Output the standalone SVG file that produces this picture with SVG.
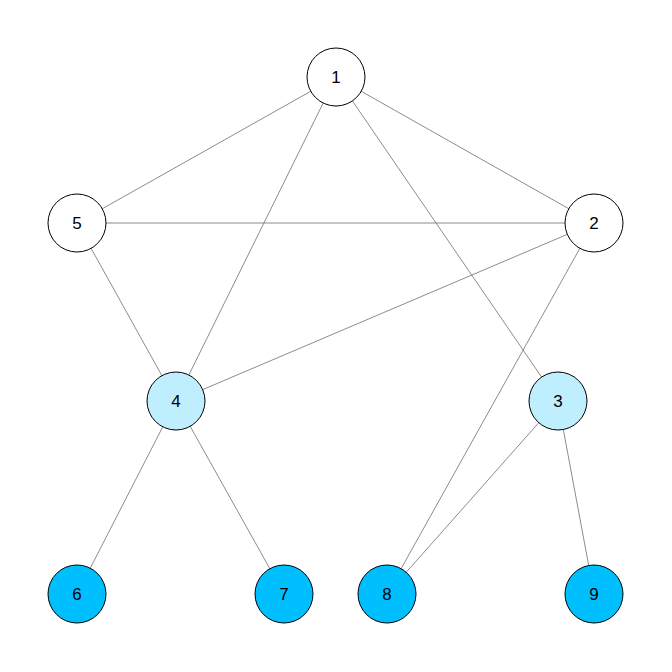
<svg xmlns="http://www.w3.org/2000/svg" width="672" height="672" viewBox="0 0 672 672">
  <style>
    .edge { stroke: #6e6e6e; stroke-width: 0.8; fill: none; }
    .node circle { stroke: #000000; stroke-width: 1; }
    .node text { font-family: "Liberation Sans", Arial, sans-serif; font-size: 17px; fill: #000000; text-anchor: middle; dominant-baseline: central; }
    .white { fill: #ffffff; }
    .light { fill: #bfefff; }
    .deep { fill: #00bfff; }
  </style>
  <rect width="672" height="672" fill="#ffffff"/>
  <g id="edges">
    <line class="edge" x1="336" y1="77" x2="77" y2="223"/>
    <line class="edge" x1="336" y1="77" x2="176" y2="401"/>
    <line class="edge" x1="336" y1="77" x2="558" y2="401"/>
    <line class="edge" x1="336" y1="77" x2="594" y2="223"/>
    <line class="edge" x1="77" y1="223" x2="594" y2="223"/>
    <line class="edge" x1="77" y1="223" x2="176" y2="401"/>
    <line class="edge" x1="594" y1="223" x2="176" y2="401"/>
    <line class="edge" x1="594" y1="223" x2="387" y2="594"/>
    <line class="edge" x1="558" y1="401" x2="387" y2="594"/>
    <line class="edge" x1="558" y1="401" x2="594" y2="594"/>
    <line class="edge" x1="176" y1="401" x2="77" y2="594"/>
    <line class="edge" x1="176" y1="401" x2="284" y2="594"/>
  </g>
  <g id="node1" class="node"><circle class="white" cx="336" cy="77" r="29"/><text x="336" y="77">1</text></g>
  <g id="node2" class="node"><circle class="white" cx="594" cy="223" r="29"/><text x="594" y="223">2</text></g>
  <g id="node3" class="node"><circle class="light" cx="558" cy="401" r="29"/><text x="558" y="401">3</text></g>
  <g id="node4" class="node"><circle class="light" cx="176" cy="401" r="29"/><text x="176" y="401">4</text></g>
  <g id="node5" class="node"><circle class="white" cx="77" cy="223" r="29"/><text x="77" y="223">5</text></g>
  <g id="node6" class="node"><circle class="deep" cx="77" cy="594" r="29"/><text x="77" y="594">6</text></g>
  <g id="node7" class="node"><circle class="deep" cx="284" cy="594" r="29"/><text x="284" y="594">7</text></g>
  <g id="node8" class="node"><circle class="deep" cx="387" cy="594" r="29"/><text x="387" y="594">8</text></g>
  <g id="node9" class="node"><circle class="deep" cx="594" cy="594" r="29"/><text x="594" y="594">9</text></g>
</svg>
